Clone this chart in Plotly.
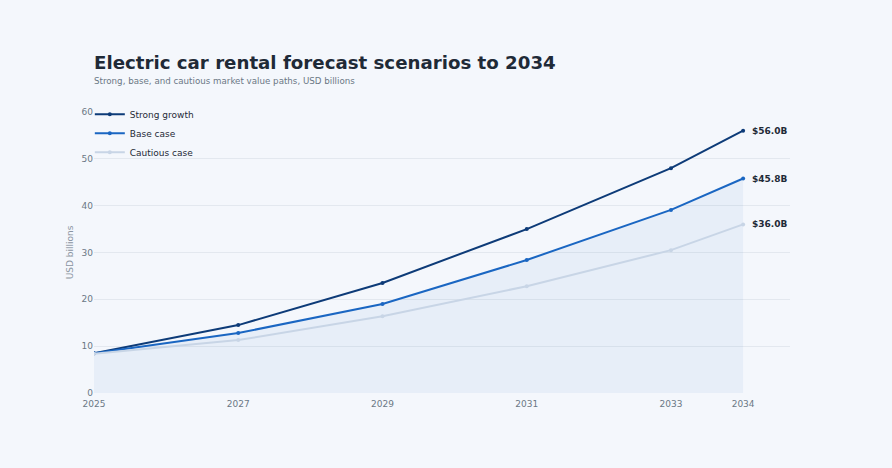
import plotly.graph_objects as go

years = [2025, 2027, 2029, 2031, 2033, 2034]
strong = [8.5, 14.5, 23.5, 35.0, 48.0, 56.0]
base = [8.5, 12.8, 19.0, 28.4, 39.1, 45.8]
cautious = [8.4, 11.3, 16.4, 22.8, 30.5, 36.0]

names = ['Strong growth', 'Base case', 'Cautious case']
colors = ['#0d3b78', '#1a66c2', '#c8d5e6']
series = [strong, base, cautious]

bg = '#f4f7fc'

fig = go.Figure()

# shaded area under the base case
fig.add_trace(go.Scatter(x=years, y=base, mode='lines', line=dict(width=0),
                         fill='tozeroy', fillcolor='rgba(26,102,194,0.06)',
                         showlegend=False, hoverinfo='skip'))

for name, col, vals in zip(names, colors, series):
    fig.add_trace(go.Scatter(x=years, y=vals, name=name, mode='lines+markers',
                             line=dict(color=col, width=2),
                             marker=dict(color=col, size=4)))

# end labels
for col, vals in zip(colors, series):
    fig.add_annotation(x=years[-1], y=vals[-1], text='<b>$%.1fB</b>' % vals[-1],
                       showarrow=False, xanchor='left', xshift=7,
                       font=dict(size=9, color='#1f2a37', family='DejaVu Sans'))

# subtitle
fig.add_annotation(xref='paper', yref='paper', x=0, xshift=-2, y=(393 - 81) / 281,
                   xanchor='left', yanchor='middle',
                   text='Strong, base, and cautious market value paths, USD billions', showarrow=False,
                   font=dict(size=8.7, color='#6b7785'))

fig.update_layout(
    width=892, height=468,
    paper_bgcolor=bg, plot_bgcolor=bg,
    font=dict(family='DejaVu Sans', color='#6b7785', size=9),
    margin=dict(l=94, r=102, t=112, b=75),
    title=dict(text='<b>Electric car rental forecast scenarios to 2034</b>',
               x=94/892, xanchor='left', y=1 - 63/468, yanchor='middle',
               font=dict(size=18.2, color='#1f2a37', family='DejaVu Sans')),
    legend=dict(x=-0.006, y=1.044, xanchor='left', yanchor='top', bgcolor='rgba(0,0,0,0)',
                font=dict(size=9, color='#1f2a37'), tracegroupgap=0, itemwidth=30),
    showlegend=True,
)

fig.update_xaxes(range=[2025, 2034.65], tickvals=years, ticktext=[str(y) for y in years],
                 showgrid=False, zeroline=False, showline=False, ticks='outside', ticklen=2,
                 tickcolor=bg, tickfont=dict(size=9, color='#6b7785'))
fig.update_yaxes(range=[0, 60], dtick=10, gridcolor='#e3e8ef', gridwidth=1, zeroline=False,
                 showline=False, tickfont=dict(size=9, color='#6b7785'),
                 title=dict(text='USD billions', font=dict(size=9, color='#8a94a1'), standoff=6))

fig.write_html("out.html", config={'displayModeBar': False},
               post_script="document.body.style.margin='0';document.body.style.background='%s';" % bg)
